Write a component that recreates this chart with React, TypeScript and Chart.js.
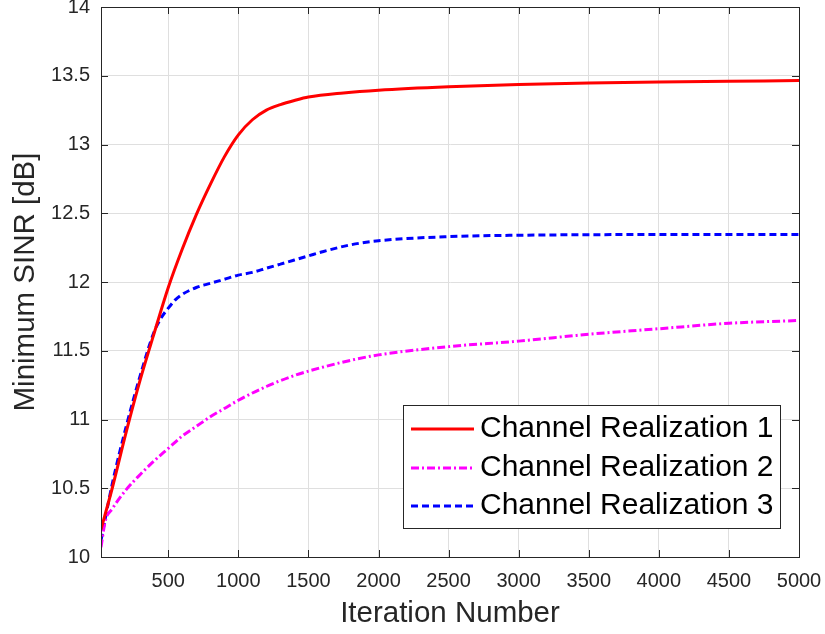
import React, { useEffect, useRef } from "react";
import { Chart, registerables } from "chart.js";

Chart.register(...registerables);

// ---------- data ----------
const SERIES_NAMES = ["Channel Realization 1", "Channel Realization 2", "Channel Realization 3"];

const ITER_1 = [20, 100, 200, 300, 400, 500, 600, 700, 800, 900, 1000, 1100, 1200, 1300, 1400, 1500, 1750, 2000, 2500, 3000, 3500, 4000, 4500, 5000];
const SINR_1 = [10.2, 10.5, 10.91, 11.29, 11.63, 11.96, 12.24, 12.49, 12.71, 12.91, 13.07, 13.18, 13.25, 13.29, 13.32, 13.345, 13.375, 13.395, 13.42, 13.437, 13.448, 13.455, 13.46, 13.465];

const ITER_2 = [20, 50, 100, 200, 300, 400, 500, 600, 700, 800, 900, 1000, 1200, 1400, 1600, 1800, 2000, 2500, 3000, 3500, 4000, 4500, 5000];
const SINR_2 = [10.07, 10.26, 10.35, 10.49, 10.6, 10.7, 10.79, 10.88, 10.95, 11.02, 11.08, 11.14, 11.24, 11.32, 11.38, 11.43, 11.47, 11.53, 11.57, 11.62, 11.66, 11.7, 11.72];

const ITER_3 = [20, 100, 200, 300, 400, 450, 500, 550, 600, 700, 800, 900, 1000, 1100, 1200, 1300, 1400, 1500, 1600, 1800, 2000, 2500, 3000, 4000, 5000];
const SINR_3 = [10.12, 10.53, 10.95, 11.32, 11.64, 11.74, 11.81, 11.87, 11.91, 11.96, 11.99, 12.02, 12.05, 12.07, 12.1, 12.13, 12.16, 12.19, 12.22, 12.27, 12.3, 12.33, 12.34, 12.345, 12.345];

const X_TICKS = [500, 1000, 1500, 2000, 2500, 3000, 3500, 4000, 4500, 5000];
const X_TICK_LABELS = ["500", "1000", "1500", "2000", "2500", "3000", "3500", "4000", "4500", "5000"];
const Y_TICKS = [10, 10.5, 11, 11.5, 12, 12.5, 13, 13.5, 14];
const Y_TICK_LABELS = ["10", "10.5", "11", "11.5", "12", "12.5", "13", "13.5", "14"];

const X_TITLE = "Iteration Number";
const Y_TITLE = "Minimum SINR [dB]";

// ---------- styles ----------
const COLORS = ["#ff0000", "#ff00ff", "#0000ff"];
const DASHES: number[][] = [[], [8, 3, 2, 3], [7, 4]];
const FONT = "'Liberation Sans', Arial, Helvetica, sans-serif";
const AXIS_COLOR = "#262626";
const GRID_COLOR = "rgb(223,223,223)";

const matlabPlugin = {
  id: "matlabAxes",
  afterDatasetsDraw(chart: any) {
    const { ctx, chartArea: a, scales } = chart;
    const xs = scales.x;
    const ys = scales.y;
    ctx.save();
    // box
    ctx.strokeStyle = AXIS_COLOR;
    ctx.lineWidth = 1;
    ctx.setLineDash([]);
    ctx.strokeRect(Math.round(a.left) + 0.5, Math.round(a.top) + 0.5, Math.round(a.right - a.left), Math.round(a.bottom - a.top));
    // inner ticks
    const tl = 7;
    ctx.beginPath();
    X_TICKS.forEach((v) => {
      const px = Math.round(xs.getPixelForValue(v)) + 0.5;
      ctx.moveTo(px, a.bottom);
      ctx.lineTo(px, a.bottom - tl);
      ctx.moveTo(px, a.top);
      ctx.lineTo(px, a.top + tl);
    });
    Y_TICKS.forEach((v) => {
      const py = Math.round(ys.getPixelForValue(v)) + 0.5;
      ctx.moveTo(a.left, py);
      ctx.lineTo(a.left + tl, py);
      ctx.moveTo(a.right, py);
      ctx.lineTo(a.right - tl, py);
    });
    ctx.stroke();

    // legend
    const lx0 = 403.5, ly0 = 405.5, lw = 377, lh = 123;
    ctx.fillStyle = "#ffffff";
    ctx.fillRect(lx0, ly0, lw, lh);
    ctx.strokeStyle = AXIS_COLOR;
    ctx.lineWidth = 1;
    ctx.strokeRect(lx0, ly0, lw, lh);
    const rows = [429, 468, 506];
    ctx.font = `30px ${FONT}`;
    ctx.textBaseline = "middle";
    ctx.textAlign = "left";
    SERIES_NAMES.forEach((name, i) => {
      ctx.strokeStyle = COLORS[i];
      ctx.lineWidth = 3;
      ctx.setLineDash(DASHES[i]);
      ctx.beginPath();
      ctx.moveTo(411, rows[i]);
      ctx.lineTo(474, rows[i]);
      ctx.stroke();
      ctx.setLineDash([]);
      ctx.fillStyle = "#000000";
      ctx.fillText(name, 480, rows[i]);
    });
    ctx.restore();
  },
};

export default function App() {
  const canvasRef = useRef<HTMLCanvasElement | null>(null);

  useEffect(() => {
    if (!canvasRef.current) return;
    const make = (xsArr: number[], ysArr: number[]) => xsArr.map((x, i) => ({ x, y: ysArr[i] }));
    const dataArrs = [make(ITER_1, SINR_1), make(ITER_2, SINR_2), make(ITER_3, SINR_3)];

    const chart = new Chart(canvasRef.current, {
      type: "line",
      data: {
        datasets: SERIES_NAMES.map((name, i) => ({
          label: name,
          data: dataArrs[i],
          borderColor: COLORS[i],
          backgroundColor: COLORS[i],
          borderWidth: 3,
          borderDash: DASHES[i],
          pointRadius: 0,
          fill: false,
          cubicInterpolationMode: "monotone" as const,
        })),
      },
      options: {
        responsive: false,
        devicePixelRatio: 1,
        animation: false,
        layout: { padding: { left: 0, top: 7, right: 26, bottom: 0 } },
        plugins: {
          legend: { display: false },
          tooltip: { enabled: false },
        },
        scales: {
          x: {
            type: "linear",
            min: 20,
            max: 5000,
            afterBuildTicks: (scale: any) => {
              scale.ticks = X_TICKS.map((v) => ({ value: v }));
            },
            afterFit: (scale: any) => {
              scale.height = 77;
              scale.paddingLeft = 0;
              scale.paddingRight = 0;
            },
            ticks: {
              autoSkip: false,
              maxRotation: 0,
              padding: 12,
              color: AXIS_COLOR,
              font: { family: FONT, size: 20 },
              callback: (v: any) => {
                const idx = X_TICKS.indexOf(Number(v));
                return idx >= 0 ? X_TICK_LABELS[idx] : "";
              },
            },
            grid: { color: GRID_COLOR, lineWidth: 1, drawTicks: false },
            border: { display: true, color: AXIS_COLOR, width: 1 },
            title: {
              display: true,
              text: X_TITLE,
              color: AXIS_COLOR,
              font: { family: FONT, size: 29.5 },
              padding: { top: 0, bottom: 2 },
            },
          },
          y: {
            type: "linear",
            min: 10,
            max: 14,
            afterBuildTicks: (scale: any) => {
              scale.ticks = Y_TICKS.map((v) => ({ value: v }));
            },
            afterFit: (scale: any) => {
              scale.width = 101;
              scale.paddingTop = 0;
              scale.paddingBottom = 0;
            },
            ticks: {
              autoSkip: false,
              padding: 11,
              color: AXIS_COLOR,
              font: { family: FONT, size: 20 },
              callback: (v: any) => {
                const idx = Y_TICKS.indexOf(Number(v));
                return idx >= 0 ? Y_TICK_LABELS[idx] : "";
              },
            },
            grid: { color: GRID_COLOR, lineWidth: 1, drawTicks: false },
            border: { display: true, color: AXIS_COLOR, width: 1 },
            title: {
              display: true,
              text: Y_TITLE,
              color: AXIS_COLOR,
              font: { family: FONT, size: 29.5 },
              padding: { top: 8, bottom: 0 },
            },
          },
        },
      },
      plugins: [matlabPlugin],
    });
    return () => chart.destroy();
  }, []);

  return (
    <div style={{ position: "fixed", left: 0, top: 0, width: 825, height: 634, background: "#ffffff" }}>
      <canvas ref={canvasRef} width={825} height={634} style={{ display: "block" }} />
    </div>
  );
}
